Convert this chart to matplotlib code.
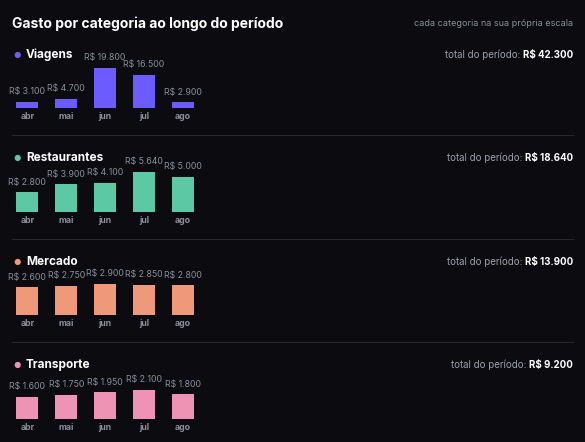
import matplotlib
matplotlib.use("Agg")
import matplotlib.pyplot as plt

months = ["abr", "mai", "jun", "jul", "ago"]
categories = ["Viagens", "Restaurantes", "Mercado", "Transporte"]
viagens = [3100, 4700, 19800, 16500, 2900]
restaurantes = [2800, 3900, 4100, 5640, 5000]
mercado = [2600, 2750, 2900, 2850, 2800]
transporte = [1600, 1750, 1950, 2100, 1800]
series = [viagens, restaurantes, mercado, transporte]
totals = ["R$ 42.300", "R$ 18.640", "R$ 13.900", "R$ 9.200"]
colors = ["#6c5cff", "#5cc9a4", "#f0997a", "#ee93b4"]
max_px = [40, 40, 31, 29]

W, H = 585, 442
BG = "#0c0c10"
fig = plt.figure(figsize=(W/100, H/100), dpi=100, facecolor=BG)
plt.rcParams['font.family'] = ['Inter', 'DejaVu Sans']

def fy(y):
    return 1 - y / H

def fmt(v):
    return "R$ " + f"{v:,}".replace(",", ".")

fig.text(12/W, fy(24), "Gasto por categoria ao longo do período", color="white",
         fontsize=10, fontweight="bold", va="center", ha="left")
fig.text(573/W, fy(24), "cada categoria na sua própria escala", color="#8a8f9e",
         fontsize=6.5, va="center", ha="right")

title_y = [55, 158, 262, 365]
base_y = [108, 212, 315, 419]
for i, (cat, vals, tot, col) in enumerate(zip(categories, series, totals, colors)):
    ty = title_y[i]
    fig.text(17/W, fy(ty), "●", color=col, fontsize=6, va="center", ha="center")
    fig.text(26/W, fy(ty), cat, color="white", fontsize=8.5, fontweight="bold",
             va="center", ha="left")
    tt = fig.text(573/W, fy(ty), tot, color="white", fontsize=7, fontweight="bold",
                  va="center", ha="right")
    fig.texts.append(plt.Annotation("total do período: ", (0, 0.5), xycoords=tt,
                                    ha="right", va="center", color="#9aa0ad", fontsize=7))
    fig.texts[-1].set_figure(fig)
    b = base_y[i]
    ax = fig.add_axes([8/W, fy(b), 194/W, 40/H])
    ax.set_facecolor("none")
    ax.set_xlim(-0.5, 4.5)
    ax.set_ylim(0, max(vals) * 40 / max_px[i])
    ax.axis("off")
    ax.bar(range(5), vals, width=0.57, color=col)
    for x, v in enumerate(vals):
        ax.annotate(fmt(v), (x, v), xytext=(0, 4), textcoords="offset points",
                    ha="center", va="bottom", color="#8a8f9e", fontsize=6.3)
        ax.annotate(months[x], (x, 0), xytext=(0, -3), textcoords="offset points",
                    ha="center", va="top", color="#8a8f9e", fontsize=6.3, fontweight="bold")
    if i < 3:
        sy = fy(b + 27)
        fig.add_artist(plt.Line2D([12/W, 573/W], [sy, sy], color="#26262d", lw=0.8))

fig.savefig("out.png", dpi=100, facecolor=BG)
